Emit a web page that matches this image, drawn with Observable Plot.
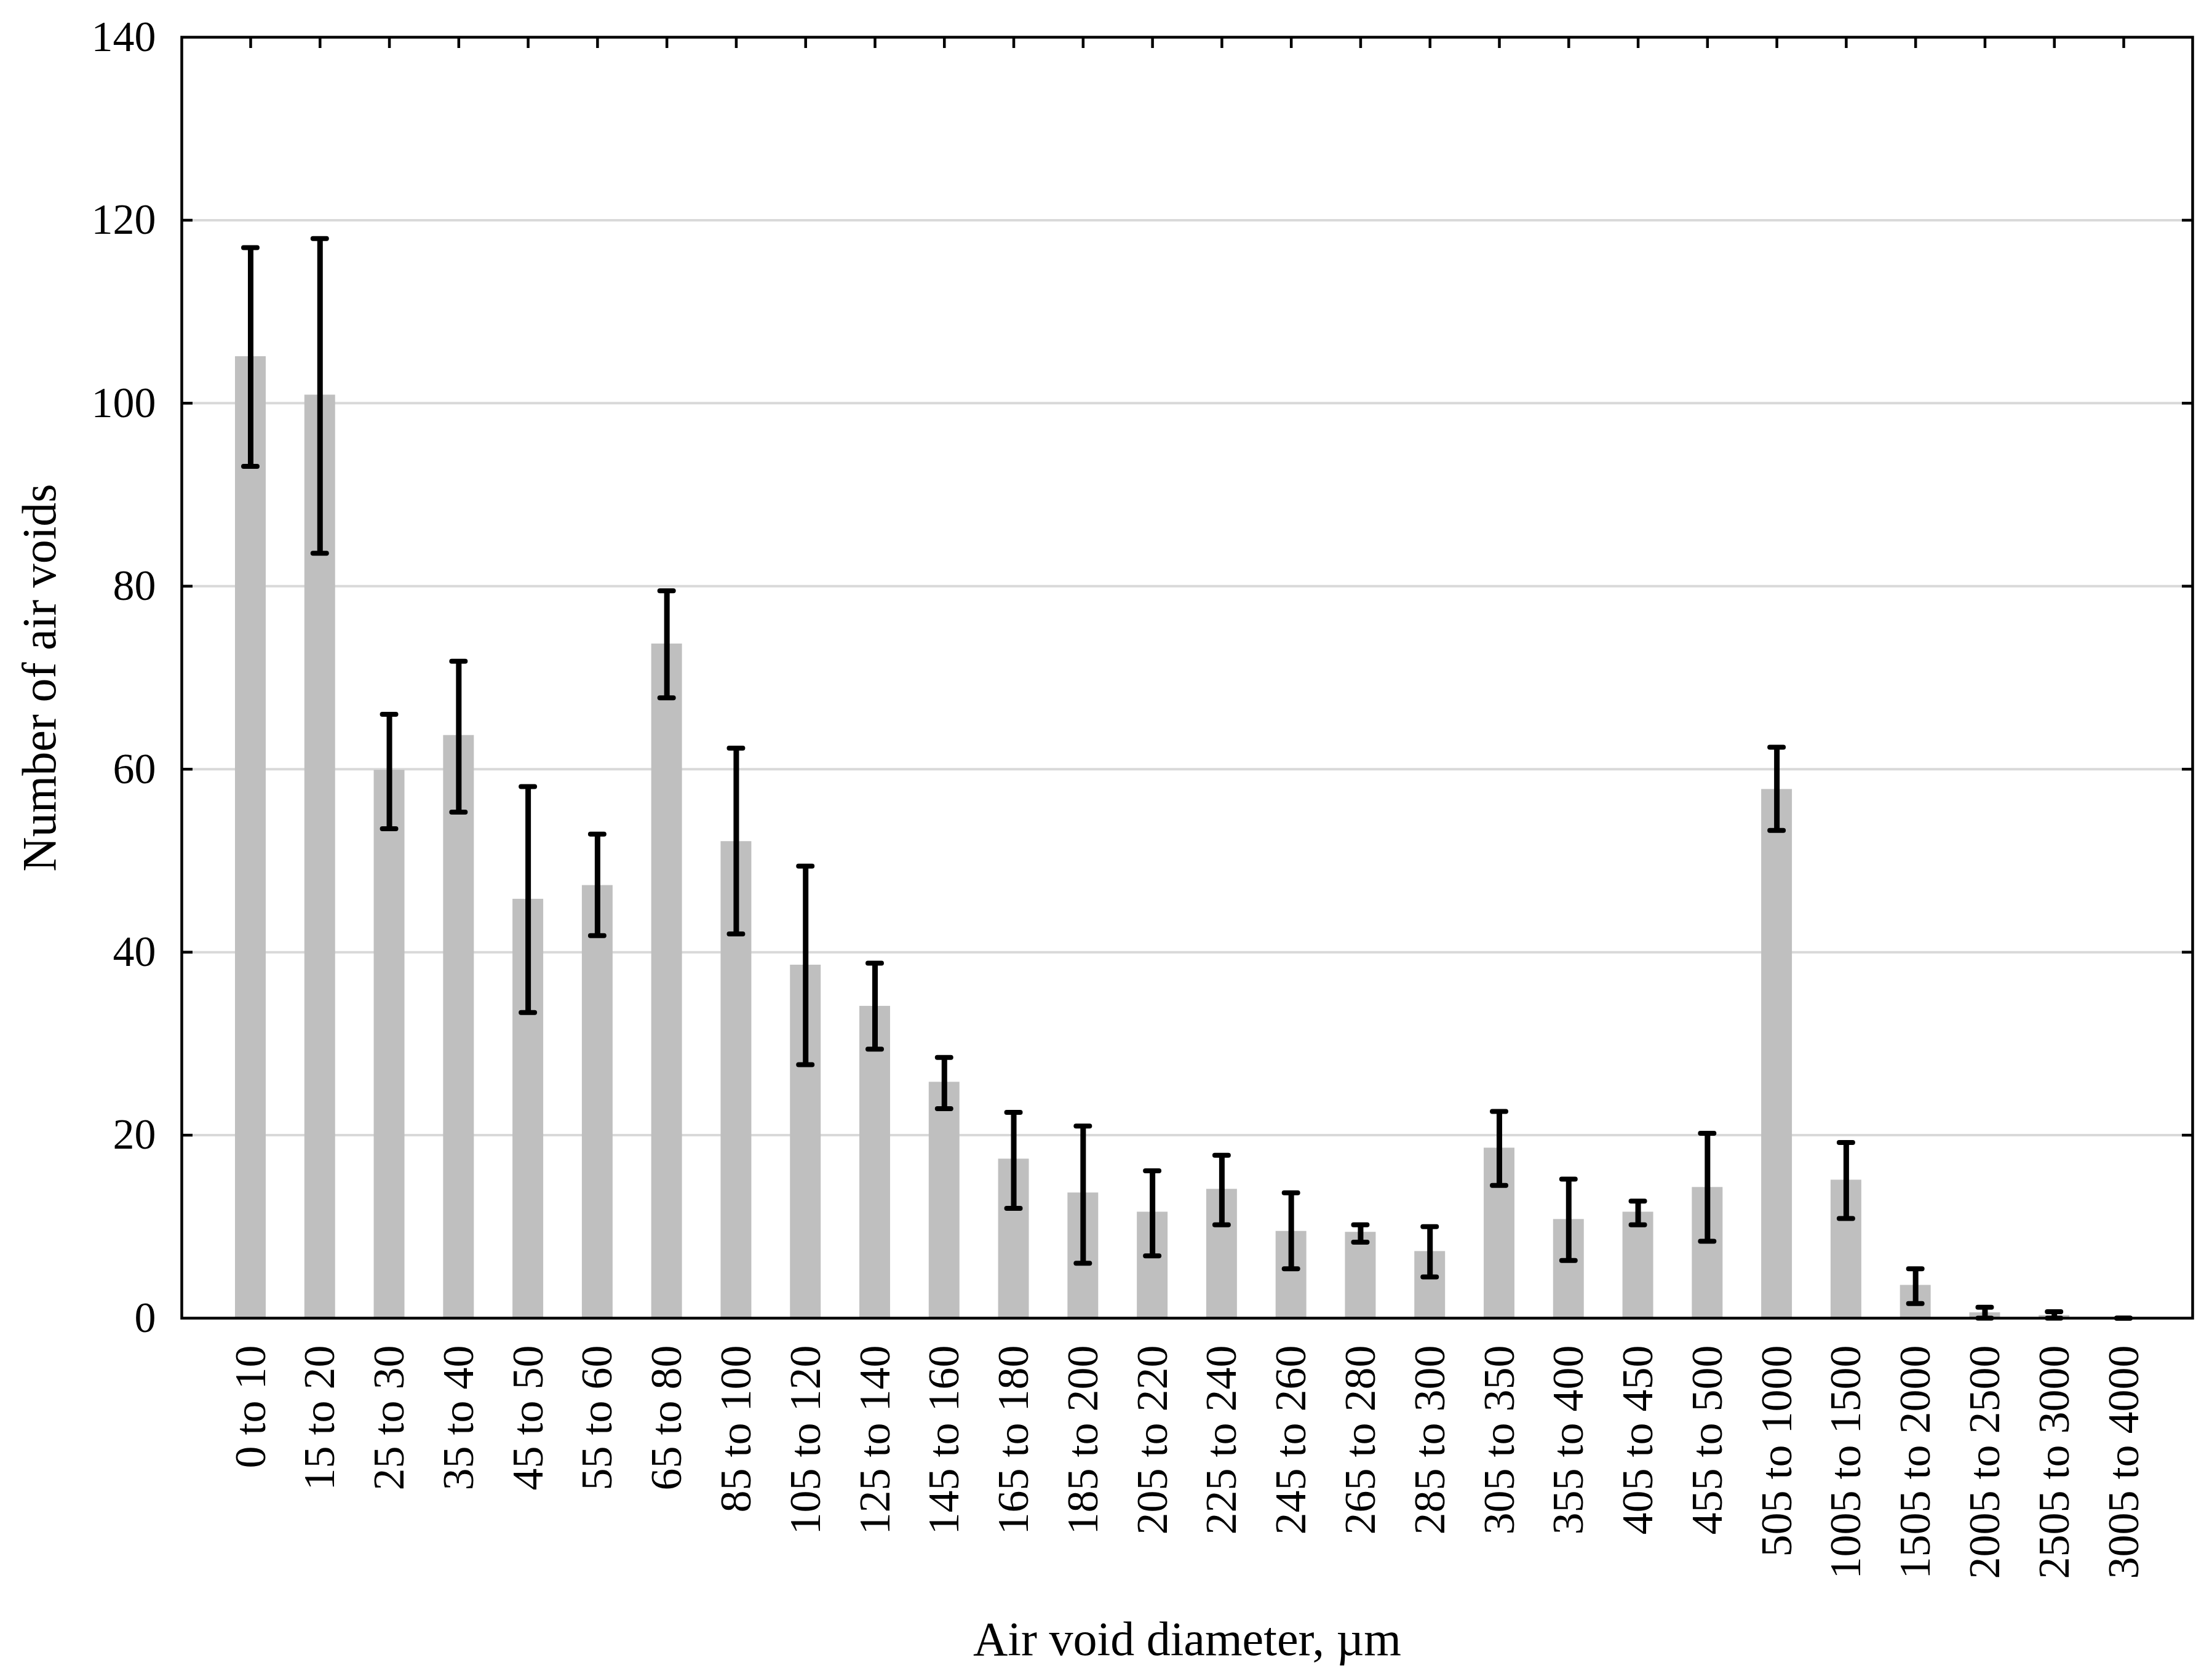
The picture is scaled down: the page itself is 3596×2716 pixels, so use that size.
<!DOCTYPE html>
<html><head><meta charset="utf-8">
<script src="https://cdn.jsdelivr.net/npm/d3@7"></script>
<script src="https://cdn.jsdelivr.net/npm/@observablehq/plot@0.6"></script>
<style>html,body{margin:0;padding:0;background:#fff;} svg{display:block}</style>
</head><body><div id="chart"></div>
<script>
const labels = ["0 to 10","15 to 20","25 to 30","35 to 40","45 to 50","55 to 60","65 to 80","85 to 100","105 to 120","125 to 140","145 to 160","165 to 180","185 to 200","205 to 220","225 to 240","245 to 260","265 to 280","285 to 300","305 to 350","355 to 400","405 to 450","455 to 500","505 to 1000","1005 to 1500","1505 to 2000","2005 to 2500","2505 to 3000","3005 to 4000"];
const means = [105.1, 100.9, 59.9, 63.7, 45.8, 47.3, 73.7, 52.1, 38.6, 34.1, 25.8, 17.4, 13.7, 11.6, 14.1, 9.5, 9.4, 7.3, 18.6, 10.8, 11.6, 14.3, 57.8, 15.1, 3.6, 0.6, 0.3, 0];
const lower = [93.1, 83.6, 53.5, 55.3, 33.4, 41.8, 67.8, 42.0, 27.7, 29.4, 22.9, 12.0, 6.0, 6.8, 10.2, 5.4, 8.3, 4.5, 14.5, 6.3, 10.2, 8.4, 53.3, 10.9, 1.6, 0, 0, 0];
const upper = [117.0, 118.0, 66.0, 71.8, 58.1, 52.9, 79.5, 62.3, 49.4, 38.8, 28.5, 22.5, 21.0, 16.1, 17.8, 13.7, 10.2, 10.0, 22.6, 15.2, 12.8, 20.2, 62.4, 19.2, 5.4, 1.2, 0.7, 0];
const yTicks = [0, 20, 40, 60, 80, 100, 120, 140];
const gridValues = [20, 40, 60, 80, 100, 120];
const xTitle = "Air void diameter, µm";
const yTitle = "Number of air voids";

const rows = labels.map((label, i) => ({label, mean: means[i], lo: lower[i], hi: upper[i]}));

const chart = Plot.plot({
  width: 3596, height: 2716,
  marginLeft: 295, marginRight: 32, marginTop: 60, marginBottom: 574,
  style: {fontFamily: "'Liberation Serif', serif", background: "#fff", color: "#000"},
  x: {type: "band", domain: labels, paddingInner: 0.557, paddingOuter: 0.7715, round: false, label: null},
  y: {domain: [0, 140], label: null},
  marks: [
    Plot.ruleY(gridValues, {stroke: "#d9d9d9", strokeWidth: 4}),
    Plot.barY(rows, {x: "label", y: "mean", fill: "#bfbfbf"}),
    Plot.ruleX(rows, {x: "label", y1: "lo", y2: "hi", stroke: "#000", strokeWidth: 9}),
    Plot.tickY(rows, {x: "label", y: "hi", stroke: "#000", strokeWidth: 8, strokeLinecap: "round", inset: 14}),
    Plot.tickY(rows, {x: "label", y: "lo", stroke: "#000", strokeWidth: 8, strokeLinecap: "round", inset: 14}),
    Plot.frame({stroke: "#000", strokeWidth: 4.5}),
    Plot.axisY(yTicks, {anchor: "left", tickSize: 0, tickPadding: 42, fontSize: 70, label: null}),
    Plot.axisY(gridValues, {anchor: "left", fill: "none", tickSize: 18, dx: 18, strokeWidth: 4.5}),
    Plot.axisY(gridValues, {anchor: "right", fill: "none", tickSize: 18, dx: -18, strokeWidth: 4.5}),
    Plot.axisX({anchor: "top", fill: "none", tickSize: 17, dy: 17, strokeWidth: 4.5}),
    Plot.axisX({anchor: "bottom", tickSize: 0, tickPadding: 44, tickRotate: -90, fontSize: 72, label: null}),
    Plot.text([yTitle], {frameAnchor: "left", textAnchor: "middle", lineAnchor: "middle", dx: -230, rotate: -90, fontSize: 78}),
    Plot.text([xTitle], {frameAnchor: "bottom", textAnchor: "middle", lineAnchor: "middle", dy: 523, fontSize: 78})
  ]
});
document.getElementById("chart").appendChild(chart);
</script>
</body></html>
